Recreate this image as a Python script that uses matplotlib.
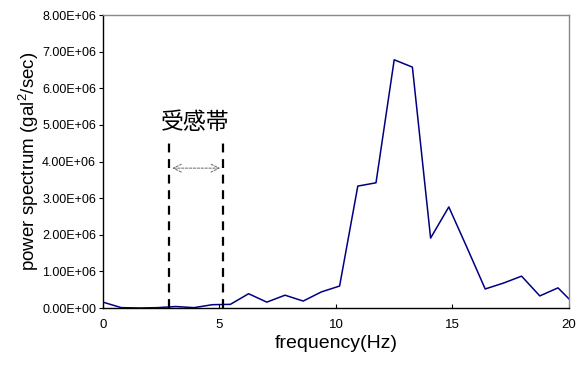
import matplotlib
matplotlib.use("Agg")
import matplotlib.pyplot as plt
from matplotlib.ticker import FuncFormatter

plt.rcParams['font.family'] = ['Liberation Sans', 'Noto Sans CJK JP', 'DejaVu Sans']
plt.rcParams['mathtext.fontset'] = 'custom'
plt.rcParams['mathtext.rm'] = 'Liberation Sans'

df = 0.78125
freq = [i * df for i in range(27)]
power = [0.16e6, 0.01e6, 0.0, 0.01e6, 0.04e6, 0.01e6, 0.09e6, 0.10e6, 0.39e6,
         0.16e6, 0.35e6, 0.19e6, 0.44e6, 0.60e6, 3.33e6, 3.42e6, 6.78e6, 6.58e6,
         1.91e6, 2.76e6, 1.65e6, 0.52e6, 0.68e6, 0.87e6, 0.33e6, 0.55e6, 0.05e6]
band = [2.85, 5.15]
band_top = 4.51e6
band_label = "受感帯"
xticks = [0, 5, 10, 15, 20]
yticks = [i * 1e6 for i in range(9)]

fig = plt.figure(figsize=(5.77, 3.69), dpi=100)
ax = fig.add_axes([0.1785, 0.1653, 0.8075, 0.7937])
ax.plot(freq, power, color='#000080', lw=1.1, clip_on=True)
ax.set_xlim(0, 20)
ax.set_ylim(0, 8e6)
ax.set_xticks(xticks)
ax.set_yticks(yticks)
ax.yaxis.set_major_formatter(FuncFormatter(lambda v, p: "{:.2E}".format(v)))
ax.tick_params(axis='x', direction='in', length=3, labelsize=9.5, pad=8)
ax.tick_params(axis='y', direction='out', length=3, labelsize=9, pad=2)
for s in ['left', 'bottom']:
    ax.spines[s].set_color('black')
    ax.spines[s].set_linewidth(1.0)
for s in ['top', 'right']:
    ax.spines[s].set_color('#888888')
    ax.spines[s].set_linewidth(1.0)

for b in band:
    ax.plot([b, b], [0, band_top], color='black', lw=1.6, ls=(0, (4, 3)))
ax.annotate('', xy=(band[0] + 0.12, 3.82e6), xytext=(band[1] - 0.12, 3.82e6),
            arrowprops=dict(arrowstyle='<->', color='#777777', lw=0.8,
                            linestyle=(0, (2, 1.5)), shrinkA=0, shrinkB=0,
                            mutation_scale=14))
ax.text(sum(band) / 2 - 0.05, 5.08e6, band_label, ha='center', va='center',
        fontsize=16.5, family=['Noto Sans CJK JP'])

ax.set_xlabel('frequency(Hz)', fontsize=14, labelpad=3)
ax.set_ylabel('power spectrum (gal$^2$/sec)', fontsize=13.5, labelpad=1)

fig.savefig('out.png', dpi=100)
